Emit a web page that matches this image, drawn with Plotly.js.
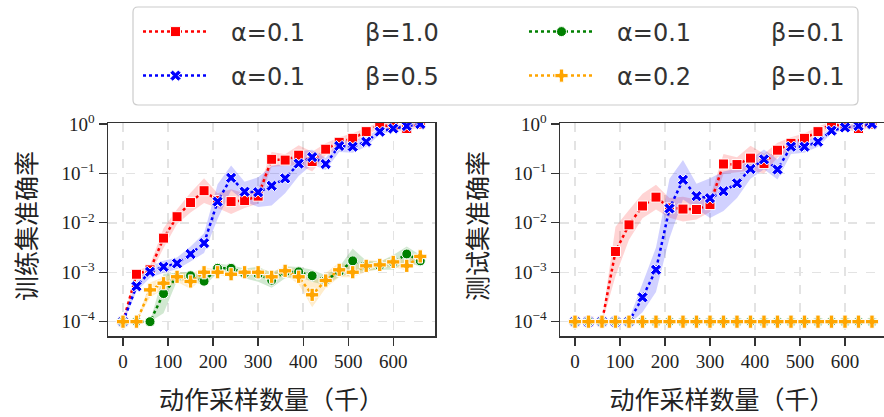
<!DOCTYPE html>
<html>
<head>
<meta charset="utf-8">
<script src="https://cdn.plot.ly/plotly-3.0.1.min.js"></script>
<style>html,body{margin:0;padding:0;background:#fff;}#chart{width:884px;height:417px;}</style>
</head>
<body>
<div id="chart"></div>
<script>
// x positions (thousand samples)
const steps = [0,30,60,90,120,150,180,210,240,270,300,330,360,390,420,450,480,510,540,570,600,630,660];

const seriesNames = ['α=0.1', 'α=0.1', 'α=0.1', 'α=0.2'];
const seriesBetas = ['β=1.0', 'β=0.5', 'β=0.1', 'β=0.1'];
const seriesColors = ['#ff0000', '#0000ff', '#008000', '#ffa500'];

// training-set accuracy (left panel)
const trainRed    = [1e-4,9.1e-4,1.12e-3,4.9e-3,0.0133,0.0257,0.0447,0.0282,0.0269,0.0282,0.0347,0.193,0.186,0.234,0.174,0.309,0.427,0.513,0.70,0.955,0.89,0.81,1.0];
const trainBlue   = [1e-4,5.2e-4,1.02e-3,1.29e-3,1.51e-3,2.34e-3,3.89e-3,0.0269,0.0813,0.0427,0.0417,0.0562,0.0794,0.158,0.214,0.155,0.359,0.347,0.437,0.70,0.81,0.91,1.0];
const trainGreen  = [1e-4,1e-4,1e-4,3.7e-4,8.1e-4,8.5e-4,6.6e-4,1.2e-3,1.2e-3,9.5e-4,9.1e-4,6.9e-4,1.0e-3,1.02e-3,8.5e-4,6.9e-4,1.02e-3,1.7e-3,1.35e-3,1.35e-3,1.58e-3,2.34e-3,1.7e-3];
const trainOrange = [1e-4,1e-4,4.4e-4,6.0e-4,8.1e-4,6.5e-4,1.0e-3,1.0e-3,9.1e-4,1.0e-3,1.0e-3,8.1e-4,1.07e-3,8.1e-4,3.5e-4,6.8e-4,1.12e-3,1.0e-3,1.35e-3,1.41e-3,1.62e-3,1.35e-3,2.09e-3];

// spread of shaded band (decades, half-width)
const trainRedSpread    = [0.03,0.05,0.1,0.2,0.15,0.2,0.25,0.15,0.25,0.15,0.15,0.15,0.12,0.2,0.2,0.12,0.1,0.1,0.08,0.06,0.05,0.08,0.04];
const trainBlueSpread   = [0.03,0.1,0.12,0.12,0.12,0.15,0.2,0.35,0.25,0.2,0.3,0.4,0.3,0.25,0.15,0.12,0.12,0.12,0.1,0.06,0.05,0.04,0.03];
const trainGreenSpread  = [0,0,0,0.4,0.08,0.08,0.1,0.1,0.06,0.1,0.15,0.15,0.12,0.1,0.12,0.1,0.1,0.25,0.1,0.08,0.15,0.15,0.12];
const trainOrangeSpread = [0,0,0.15,0.12,0.1,0.15,0.1,0.05,0.06,0.06,0.08,0.1,0.08,0.15,0.25,0.15,0.15,0.1,0.12,0.08,0.1,0.1,0.08];

// test-set accuracy (right panel)
const testRed    = [1e-4,1e-4,1e-4,2.63e-3,9.1e-3,0.0219,0.0331,0.020,0.019,0.0186,0.0234,0.155,0.151,0.204,0.158,0.295,0.407,0.513,0.70,1.0,0.89,0.81,1.0];
const testBlue   = [1e-4,1e-4,1e-4,1e-4,1e-4,3.1e-4,1.12e-3,0.0195,0.0741,0.0347,0.0316,0.0437,0.0631,0.123,0.193,0.120,0.347,0.347,0.437,0.733,0.851,0.912,1.0];
const testGreen  = [1e-4,1e-4,1e-4,1e-4,1e-4,1e-4,1e-4,1e-4,1e-4,1e-4,1e-4,1e-4,1e-4,1e-4,1e-4,1e-4,1e-4,1e-4,1e-4,1e-4,1e-4,1e-4,1e-4];
const testOrange = [1e-4,1e-4,1e-4,1e-4,1e-4,1e-4,1e-4,1e-4,1e-4,1e-4,1e-4,1e-4,1e-4,1e-4,1e-4,1e-4,1e-4,1e-4,1e-4,1e-4,1e-4,1e-4,1e-4];

const testRedSpread    = [0,0,0.03,0.5,0.3,0.25,0.25,0.2,0.25,0.2,0.15,0.2,0.15,0.25,0.2,0.15,0.12,0.1,0.1,0.06,0.05,0.08,0.04];
const testBlueSpread   = [0,0,0,0,0.05,0.3,0.45,0.6,0.4,0.25,0.4,0.4,0.3,0.2,0.2,0.2,0.15,0.12,0.1,0.06,0.05,0.04,0.03];
const testGreenSpread  = [0,0,0,0,0,0,0,0,0,0,0,0,0,0,0,0,0,0,0,0,0,0,0];
const testOrangeSpread = [0,0,0,0,0,0,0,0,0,0,0,0,0,0,0,0,0,0,0,0,0,0,0];

const yTickVals = [1e-4, 1e-3, 1e-2, 1e-1, 1];
const yTickText = ['10<sup>−4</sup>','10<sup>−3</sup>','10<sup>−2</sup>','10<sup>−1</sup>','10<sup>0</sup>'];
const xTitle = '动作采样数量（千）';
const yTitles = ['训练集准确率', '测试集准确率'];

const bandColors = ['rgba(255,0,0,0.17)','rgba(0,0,255,0.18)','rgba(0,128,0,0.18)','rgba(255,165,0,0.2)'];
const symbols = ['square','x','circle','cross'];
const msizes = [10,10,10,11];
const legendIds = ['legend','legend2','legend3','legend4'];
const legendGaps = ['\u2003\u2003\u2005\u2005', '\u2003\u2003\u2005\u2005', '\u2003\u2003\u2003\u2004', '\u2003\u2003\u2003\u2004'];

function band(vals, spread, color, xa, ya) {
  const up = vals.map((v,i)=>v*Math.pow(10,spread[i]));
  const lo = vals.map((v,i)=>v/Math.pow(10,spread[i]));
  return {
    x: steps.concat(steps.slice().reverse()),
    y: up.concat(lo.slice().reverse()),
    xaxis: xa, yaxis: ya, type:'scatter', mode:'lines', fill:'toself',
    fillcolor: color, line:{width:0}, hoverinfo:'skip', showlegend:false
  };
}
function line(vals, k, xa, ya, show) {
  return {
    x: steps, y: vals, xaxis: xa, yaxis: ya, type:'scatter', mode:'lines+markers',
    name: '\u2002\u2005' + seriesNames[k] + legendGaps[k] + seriesBetas[k],
    legend: legendIds[k], showlegend: show,
    line:{color: seriesColors[k], width:2.5, dash:'dot'},
    marker:{symbol: symbols[k], size: msizes[k], color: seriesColors[k], line:{color:'#ffffff', width:1}}
  };
}

const trainSets = [trainRed, trainBlue, trainGreen, trainOrange];
const trainSpreads = [trainRedSpread, trainBlueSpread, trainGreenSpread, trainOrangeSpread];
const testSets = [testRed, testBlue, testGreen, testOrange];
const testSpreads = [testRedSpread, testBlueSpread, testGreenSpread, testOrangeSpread];

const traces = [];
for (let k=0;k<4;k++) traces.push(band(trainSets[k], trainSpreads[k], bandColors[k], 'x', 'y'));
for (let k=0;k<4;k++) traces.push(band(testSets[k], testSpreads[k], bandColors[k], 'x2', 'y2'));
for (let k=0;k<4;k++) traces.push(line(trainSets[k], k, 'x', 'y', true));
for (let k=0;k<4;k++) traces.push(line(testSets[k], k, 'x2', 'y2', false));

const W = 884, H = 417;
const px = v => v / W, py = v => 1 - v / H;

const tickFont = {family:'Liberation Serif, DejaVu Serif, serif', size:19, color:'#222'};
const titleFont = {family:'Noto Sans CJK SC, sans-serif', size:25, color:'#222'};

function xaxis(domain, range, anchor) {
  return {
    domain: domain, range: range, anchor: anchor,
    tickmode:'linear', tick0:0, dtick:100,
    ticks:'outside', ticklen:8, tickwidth:1.3, tickcolor:'#333',
    showline:true, linecolor:'#333', linewidth:1.5, mirror:true,
    showgrid:true, gridcolor:'#e3e3e3', gridwidth:1.5, griddash:'dash',
    zeroline:false, tickfont: tickFont, automargin:false,
    title:{text:xTitle, font:titleFont, standoff:20}
  };
}
function yaxis(anchor) {
  return {
    domain:[py(336), py(123)], type:'log', range:[-4.29, 0.02], anchor: anchor,
    tickmode:'array', tickvals: yTickVals, ticktext: yTickText,
    ticks:'outside', ticklen:8, tickwidth:1.3, tickcolor:'#333',
    showline:true, linecolor:'#333', linewidth:1.5, mirror:true,
    showgrid:true, gridcolor:'#e3e3e3', gridwidth:1.5, griddash:'dash',
    zeroline:false, tickfont: tickFont, automargin:false
  };
}

// rounded legend frame
const bx0=133, bx1=858, by0=7, by1=105, r=5;
const framePath = `M${px(bx0+r)},${py(by0)} L${px(bx1-r)},${py(by0)} Q${px(bx1)},${py(by0)} ${px(bx1)},${py(by0+r)} ` +
  `L${px(bx1)},${py(by1-r)} Q${px(bx1)},${py(by1)} ${px(bx1-r)},${py(by1)} L${px(bx0+r)},${py(by1)} ` +
  `Q${px(bx0)},${py(by1)} ${px(bx0)},${py(by1-r)} L${px(bx0)},${py(by0+r)} Q${px(bx0)},${py(by0)} ${px(bx0+r)},${py(by0)} Z`;

const legendFont = {family:'DejaVu Sans, sans-serif', size:24, color:'#333'};
function legendCfg(xl, yc) {
  return {
    orientation:'h', x: px(xl), xanchor:'left', y: py(yc), yanchor:'middle',
    itemwidth: 65, font: legendFont, bgcolor:'rgba(0,0,0,0)', borderwidth:0
  };
}

const layout = {
  width: W, height: H,
  margin:{l:0, r:0, t:0, b:0},
  paper_bgcolor:'#ffffff', plot_bgcolor:'#ffffff',
  showlegend:true,
  xaxis: xaxis([px(108), px(435)], [-33.3, 692.7], 'y'),
  yaxis: yaxis('x'),
  xaxis2: xaxis([px(560), 1], [-33.3, 686.7], 'y2'),
  yaxis2: yaxis('x2'),
  legend: legendCfg(138, 32),
  legend2: legendCfg(138, 76),
  legend3: legendCfg(524, 32),
  legend4: legendCfg(524, 76),
  annotations: [
    {text: yTitles[0], xref:'paper', yref:'paper', x: px(25), y: py(226), textangle:-90,
     showarrow:false, font: titleFont, xanchor:'center', yanchor:'middle'},
    {text: yTitles[1], xref:'paper', yref:'paper', x: px(476), y: py(226), textangle:-90,
     showarrow:false, font: titleFont, xanchor:'center', yanchor:'middle'}
  ],
  shapes:[{type:'path', xref:'paper', yref:'paper', path: framePath,
    line:{color:'#cccccc', width:1.2}, fillcolor:'rgba(255,255,255,0.8)', layer:'below'}]
};

Plotly.newPlot('chart', traces, layout, {displayModeBar:false, staticPlot:true});
</script>
</body>
</html>
